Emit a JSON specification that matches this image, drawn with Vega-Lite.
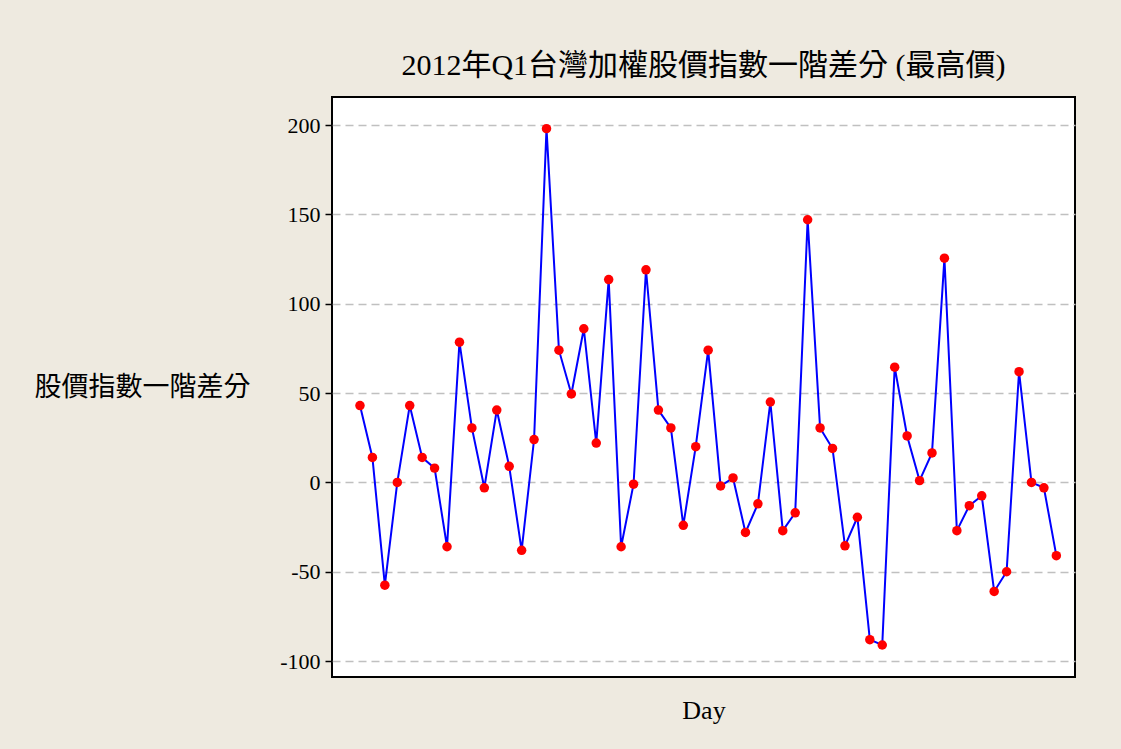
{
  "$schema": "https://vega.github.io/schema/vega-lite/v6.json",
  "width": 743,
  "height": 580,
  "autosize": {"type": "none"},
  "padding": {"left": 332, "top": 97, "right": 46, "bottom": 72},
  "background": "#EEEAE0",
  "title": {
    "text": "2012年Q1台灣加權股價指數一階差分 (最高價)",
    "font": "Liberation Serif, Noto Sans CJK TC",
    "fontSize": 30,
    "fontWeight": "normal",
    "color": "#000000",
    "anchor": "middle",
    "offset": 16
  },
  "data": {
    "values": [
      {"day": 1, "diff": 43}, {"day": 2, "diff": 14}, {"day": 3, "diff": -57.5}, {"day": 4, "diff": 0},
      {"day": 5, "diff": 43}, {"day": 6, "diff": 14}, {"day": 7, "diff": 8}, {"day": 8, "diff": -36},
      {"day": 9, "diff": 78.5}, {"day": 10, "diff": 30.5}, {"day": 11, "diff": -3}, {"day": 12, "diff": 40.5},
      {"day": 13, "diff": 9}, {"day": 14, "diff": -38}, {"day": 15, "diff": 24}, {"day": 16, "diff": 198},
      {"day": 17, "diff": 74}, {"day": 18, "diff": 49.5}, {"day": 19, "diff": 86}, {"day": 20, "diff": 22},
      {"day": 21, "diff": 113.5}, {"day": 22, "diff": -36}, {"day": 23, "diff": -1}, {"day": 24, "diff": 119},
      {"day": 25, "diff": 40.5}, {"day": 26, "diff": 30.5}, {"day": 27, "diff": -24}, {"day": 28, "diff": 20},
      {"day": 29, "diff": 74}, {"day": 30, "diff": -2}, {"day": 31, "diff": 2.5}, {"day": 32, "diff": -28},
      {"day": 33, "diff": -12}, {"day": 34, "diff": 45}, {"day": 35, "diff": -27}, {"day": 36, "diff": -17},
      {"day": 37, "diff": 147}, {"day": 38, "diff": 30.5}, {"day": 39, "diff": 19}, {"day": 40, "diff": -35.5},
      {"day": 41, "diff": -19.5}, {"day": 42, "diff": -88}, {"day": 43, "diff": -91}, {"day": 44, "diff": 64.5},
      {"day": 45, "diff": 26}, {"day": 46, "diff": 1}, {"day": 47, "diff": 16.5}, {"day": 48, "diff": 125.5},
      {"day": 49, "diff": -27}, {"day": 50, "diff": -13}, {"day": 51, "diff": -7.5}, {"day": 52, "diff": -61},
      {"day": 53, "diff": -50}, {"day": 54, "diff": 62}, {"day": 55, "diff": 0}, {"day": 56, "diff": -3},
      {"day": 57, "diff": -41}
    ]
  },
  "encoding": {
    "x": {
      "field": "day",
      "type": "quantitative",
      "scale": {"domain": [-1.25, 58.5], "nice": false, "zero": false},
      "axis": {
        "title": "Day",
        "labels": false,
        "ticks": false,
        "domain": false,
        "grid": false,
        "titleFont": "Liberation Serif",
        "titleFontSize": 26,
        "titleFontWeight": "normal",
        "titleColor": "#000000",
        "titleBaseline": "alphabetic",
        "titleY": 41
      }
    },
    "y": {
      "field": "diff",
      "type": "quantitative",
      "scale": {"domain": [-108.9, 215.7], "nice": false, "zero": false},
      "axis": {
        "title": "股價指數一階差分",
        "titleFont": "Noto Sans CJK TC",
        "titleFontSize": 27,
        "titleFontWeight": "normal",
        "titleColor": "#000000",
        "titleAngle": 0,
        "titleAlign": "center",
        "titleBaseline": "middle",
        "titleX": -190,
        "titleY": 290,
        "values": [-100, -50, 0, 50, 100, 150, 200],
        "labelExpr": "datum.value < 0 ? '-' + abs(datum.value) : '' + datum.value",
        "labelFont": "Liberation Serif",
        "labelFontSize": 22,
        "labelColor": "#000000",
        "labelPadding": 5,
        "ticks": true,
        "tickSize": 7,
        "tickWidth": 1.5,
        "tickColor": "#000000",
        "domain": false,
        "grid": true,
        "gridDash": [8, 5],
        "gridColor": "#C0C0C0",
        "gridWidth": 1.5
      }
    }
  },
  "layer": [
    {"mark": {"type": "line", "color": "#0000FF", "strokeWidth": 2}},
    {"mark": {"type": "point", "filled": true, "color": "#FF0000", "opacity": 1, "size": 90}}
  ],
  "config": {
    "view": {"stroke": "#000000", "strokeWidth": 2, "fill": "#FFFFFF"}
  }
}
